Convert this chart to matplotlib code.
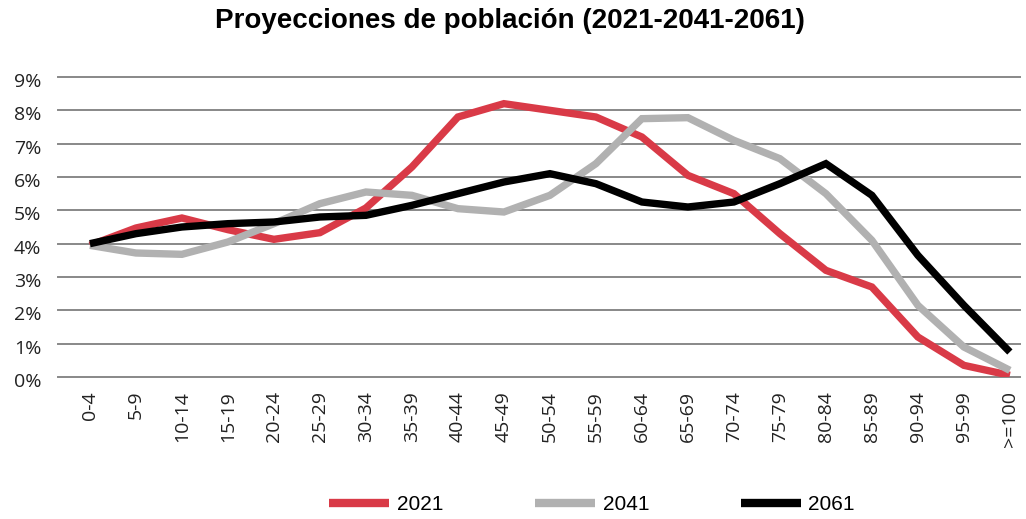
import matplotlib
matplotlib.use("Agg")
import matplotlib.pyplot as plt
from matplotlib.ticker import FuncFormatter
import matplotlib.transforms as mtransforms

categories = ["0-4", "5-9", "10-14", "15-19", "20-24", "25-29", "30-34", "35-39",
              "40-44", "45-49", "50-54", "55-59", "60-64", "65-69", "70-74", "75-79",
              "80-84", "85-89", "90-94", "95-99", ">=100"]
s2021 = [3.95, 4.47, 4.77, 4.42, 4.13, 4.33, 5.07, 6.3, 7.8, 8.2, 8.0, 7.8, 7.2,
         6.05, 5.5, 4.3, 3.2, 2.7, 1.2, 0.35, 0.05]
s2041 = [3.95, 3.72, 3.68, 4.05, 4.6, 5.2, 5.55, 5.45, 5.05, 4.95, 5.45, 6.4, 7.75,
         7.78, 7.1, 6.55, 5.5, 4.1, 2.15, 0.9, 0.2]
s2061 = [4.0, 4.3, 4.5, 4.6, 4.65, 4.8, 4.85, 5.15, 5.5, 5.85, 6.1, 5.8, 5.25,
         5.1, 5.25, 5.8, 6.4, 5.45, 3.65, 2.15, 0.75]
series_names = ["2021", "2041", "2061"]
yticks = list(range(0, 10))

colors = ["#d93a47", "#b1b1b1", "#000000"]

plt.rcParams['font.family'] = ['Open Sans', 'DejaVu Sans']

fig = plt.figure(figsize=(10.26, 5.19), dpi=100)
ax = fig.add_axes([58/1026, 142/519, (1020-58)/1026, 300/519])

x = list(range(len(categories)))
for vals, c, name in zip([s2021, s2041, s2061], colors, series_names):
    ax.plot(x, vals, color=c, lw=5.3, label=name, solid_joinstyle='miter',
            solid_capstyle='butt', zorder=3)

ax.set_ylim(0, 9)
ax.set_xlim(-0.694, 20.22)
ax.set_yticks(yticks)
ax.yaxis.set_major_formatter(FuncFormatter(lambda v, p: f"{int(v)}%"))
for t in yticks:
    ax.axhline(t, color="#888888", lw=1.4, zorder=1, clip_on=False)
ax.set_xticks(x)
ax.set_xticklabels(categories, rotation=90, va='top', ha='center')
ax.tick_params(axis='both', length=0, labelsize=14, colors="#222222")
ax.tick_params(axis='y', pad=12)
ax.tick_params(axis='x', pad=10)
for sp in ax.spines.values():
    sp.set_visible(False)

offset = mtransforms.ScaledTranslation(0, -5/100, fig.dpi_scale_trans)
for lbl in ax.get_yticklabels():
    lbl.set_verticalalignment('center')
    lbl.set_transform(lbl.get_transform() + offset)

fig.text(0.497, 1 - 21/519, "Proyecciones de población (2021-2041-2061)",
         ha='center', va='center', fontsize=20, fontweight='bold',
         family=['Liberation Sans', 'DejaVu Sans'])

leg = fig.legend(loc='center', bbox_to_anchor=(592/1026, 1 - 505/519), ncol=3,
                 frameon=False, handlelength=2.9, handletextpad=0.35,
                 columnspacing=4.4, prop={'family': 'Liberation Sans', 'size': 15})
for h in leg.get_lines():
    h.set_linewidth(6)

fig.savefig("out.png", dpi=100)
